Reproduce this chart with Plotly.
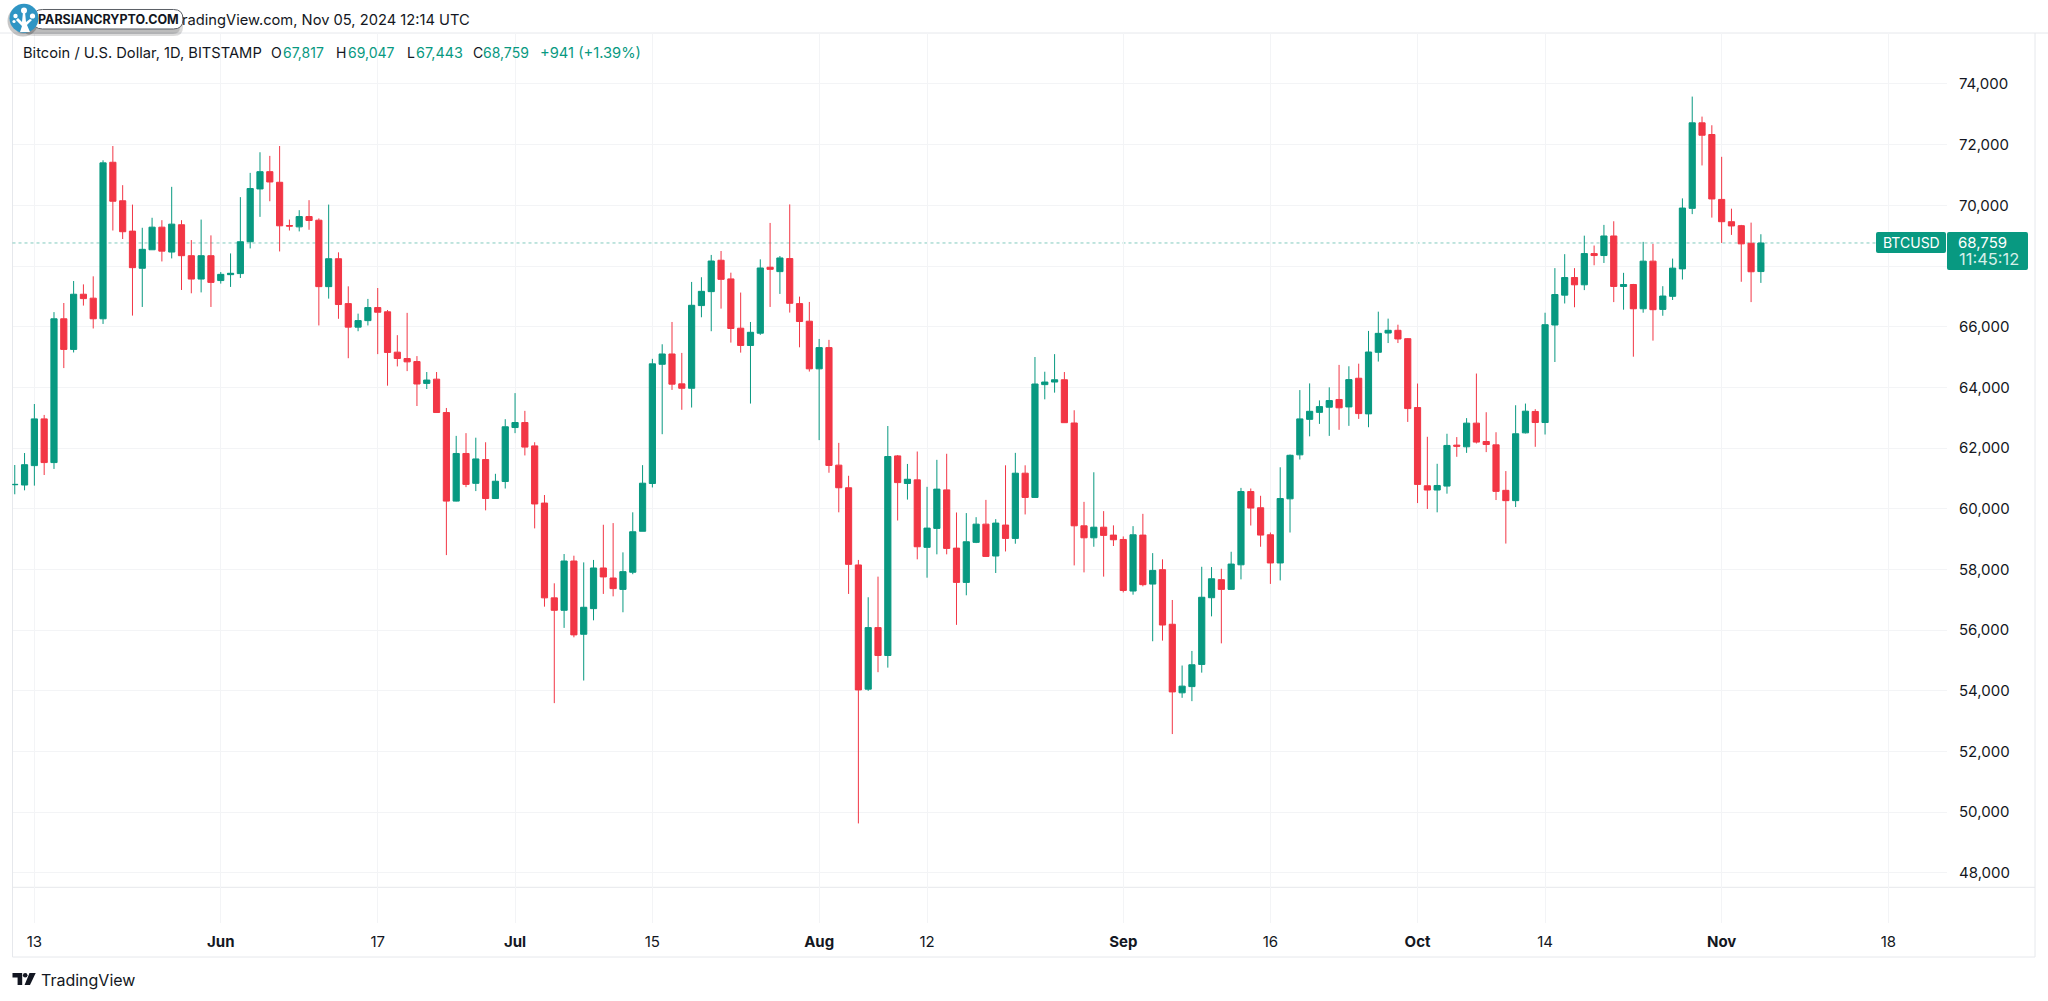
import pandas as pd
import plotly.graph_objects as go

W = 2048
H = 1001

GREEN = '#089981'
RED = '#F23645'
TEXT = '#131722'
GRID = '#f3f4f6'
BORDER = '#e6e8ec'

# Daily candles, BTCUSD Bitstamp
dates = pd.date_range('2024-05-11', '2024-11-05', freq='D')

# May 11 .. Jun 30
opens = [60790, 60780, 61420, 62960, 61520, 66260, 65250, 67070, 66940, 66260,
         71420, 70150, 69150, 67925, 68535, 69280, 68460, 69360, 68340, 67570,
         68340, 67520, 67715, 67750, 68800, 70540, 71110, 70760, 69335, 69290,
         69630, 69510, 67320, 68240, 66760, 65985, 66200, 66630, 66490, 65160,
         64950, 64850, 64130, 64270, 63170, 60250, 61820, 60835, 61620, 60335,
         60895,
         # Jul
         62675, 62840, 62070, 60185, 57060, 56650, 58275, 55860, 56705, 58045,
         57715, 57340, 57905, 59255, 60830, 64760, 65100, 64115, 63970, 66695,
         67155, 68190, 67575, 65950, 65380, 65785, 67960, 67815, 68245, 66760,
         66180,
         # Aug
         64610, 65310, 61435, 60690, 58145, 54050, 56080, 55160, 61740, 60830,
         60950, 58725, 59350, 60620, 58700, 57570, 58890, 59490, 58440, 59460,
         59020, 61170, 60370, 64090, 64175, 64250, 62825, 59435, 59040, 59390,
         59130,
         # Sep
         58985, 57285, 59130, 57515, 57990, 56190, 53930, 54135, 54865, 57065,
         57660, 57340, 58150, 60565, 60030, 59140, 58210, 60325, 61775, 62945,
         63175, 63345, 63600, 63355, 64300, 63125, 65155, 65790, 65880, 65605,
         # Oct
         63335, 60755, 60615, 60745, 62095, 62040, 62820, 62215, 62105, 60605,
         60265, 62500, 63205, 62840, 66055, 67040, 67620, 67380, 68410, 68345,
         68990, 67325, 67390, 66590, 68160, 66570, 67000, 67905, 69900, 72720,
         72335,
         # Nov
         70195, 69460, 69330, 68750, 67817]

highs = [61440, 61835, 63450, 63090, 66480, 66780, 67505, 67395, 67660, 71485,
         71955, 70665, 70025, 69260, 69590, 69510, 70610, 69510, 68855, 69530,
         69010, 67800, 68415, 70270, 71070, 71750, 71630, 71955, 69530, 69840,
         70170, 69570, 70025, 68450, 67330, 66430, 66915, 67275, 66550, 65720,
         66455, 65030, 64505, 64505, 63320, 62400, 62490, 62340, 62190, 61150,
         62950,
         63810, 63225, 62190, 60450, 57540, 58505, 58450, 58230, 58310, 59470,
         59525, 58560, 59880, 61435, 64940, 65420, 66155, 65135, 67475, 67630,
         68365, 68495, 67780, 67125, 66155, 68220, 69420, 68330, 70030, 66990,
         66815,
         65595, 65565, 62170, 61085, 58310, 57080, 57760, 62725, 61770, 61475,
         61885, 60720, 61610, 61810, 59875, 59855, 59720, 60290, 59655, 61430,
         61840, 61430, 65000, 64515, 65095, 64505, 63245, 60225, 61200, 59920,
         59450,
         59085, 59425, 59830, 58535, 58330, 56990, 54830, 55310, 58085, 58075,
         58020, 58580, 60685, 60665, 60425, 59215, 61365, 61785, 63910, 64130,
         63570, 64000, 64740, 64695, 64780, 65860, 66495, 66265, 66065, 65625,
         64125, 62370, 61480, 62470, 62360, 62985, 64455, 63180, 62520, 61240,
         63410, 63465, 63280, 66460, 67930, 68390, 67930, 69000, 68675, 69355,
         69475, 67775, 67410, 68795, 68730, 67335, 68245, 70230, 73585, 72925,
         72640,
         71600, 69890, 69355, 69430, 69047]

lows = [60475, 60605, 60760, 61110, 61310, 64635, 65150, 66695, 65940, 66090,
        69170, 68890, 66365, 66650, 68535, 68150, 68250, 67210, 67100, 67130,
        66650, 67420, 67310, 67605, 68580, 69620, 70135, 68480, 69170, 69140,
        69195, 66040, 66925, 66260, 64960, 65850, 66040, 65095, 64055, 64690,
        64535, 63385, 63945, 63170, 58470, 60240, 60710, 60580, 59945, 60330,
        60665,
        62490, 61755, 59350, 56770, 53590, 56070, 55760, 54335, 56320, 57190,
        57110, 56585, 57840, 59255, 60700, 62455, 63915, 63260, 63335, 66310,
        65850, 66595, 65475, 65145, 63465, 65730, 66650, 67080, 66465, 65320,
        64520,
        62260, 61185, 59880, 57190, 49625, 53995, 54610, 54760, 59610, 60300,
        58330, 57725, 58495, 58495, 56170, 57145, 58865, 58425, 57880, 58590,
        58845, 59810, 60370, 63605, 63825, 62835, 58130, 57900, 58745, 57760,
        58770,
        57240, 57165, 57440, 55630, 55650, 52570, 53765, 53655, 54595, 56450,
        55560, 57340, 57670, 59445, 58745, 57520, 57635, 59215, 61620, 62385,
        62795, 62400, 62600, 62730, 62960, 62685, 64850, 65460, 65460, 62860,
        60185, 59990, 59880, 60495, 61710, 61840, 62150, 61865, 60285, 58850,
        60055, 62480, 62040, 62445, 64835, 66765, 66640, 67205, 68025, 68100,
        66810, 66560, 65010, 66460, 65540, 66360, 66880, 67555, 69710, 71315,
        69595,
        68760, 69025, 67480, 66810, 67443]

closes = [60800, 61450, 62960, 61520, 66260, 65250, 67070, 66925, 66260, 71400,
          70135, 69130, 67945, 68550, 69280, 68490, 69380, 68340, 67570, 68340,
          67460, 67725, 67760, 68800, 70555, 71110, 70770, 69325, 69315, 69630,
          69500, 67320, 68240, 66730, 65985, 66200, 66630, 66475, 65150, 64950,
          64840, 64110, 64240, 63170, 60250, 61820, 60800, 61640, 60335, 60905,
          62700,
          62840, 62030, 60155, 57060, 56650, 58275, 55840, 56750, 58045, 57750,
          57365, 57925, 59240, 60840, 64775, 65100, 64105, 63970, 66705, 67165,
          68165, 67560, 65940, 65380, 65815, 67935, 67890, 68265, 66770, 66170,
          64610,
          65310, 61425, 60690, 58165, 54025, 56080, 55160, 61720, 60860, 60970,
          58745, 59360, 60645, 58690, 57570, 58910, 59490, 58425, 59525, 59020,
          61170, 60370, 64110, 64175, 64250, 62835, 59435, 59040, 59390, 59120,
          58975,
          57305, 59140, 57495, 57965, 56165, 53960, 54150, 54855, 57080, 57690,
          57340, 58175, 60565, 60020, 59130, 58210, 60335, 61760, 62960, 63210,
          63365, 63565, 63325, 64255, 63135, 65165, 65780, 65880, 65595, 63300,
          60800, 60615, 60765, 62085, 62060, 62820, 62195, 62115, 60570, 60265,
          62470, 63215, 62840, 66065, 67060, 67620, 67380, 68410, 68345, 68990,
          67325, 67390, 66590, 68160, 66560, 67010, 67930, 69910, 72720, 72310,
          70210,
          69460, 69320, 68730, 67810, 68759]

price_ticks = [48000, 50000, 52000, 54000, 56000, 58000, 60000, 62000,
               64000, 66000, 68000, 70000, 72000, 74000]
# 68,000 sits under the last price label in the reference
price_labels = ['48,000', '50,000', '52,000', '54,000', '56,000', '58,000', '60,000', '62,000',
                '64,000', '66,000', '', '70,000', '72,000', '74,000']
time_ticks = ['2024-05-13', '2024-06-01', '2024-06-17', '2024-07-01', '2024-07-15',
              '2024-08-01', '2024-08-12', '2024-09-01', '2024-09-16', '2024-10-01',
              '2024-10-14', '2024-11-01', '2024-11-18']
time_labels = ['13', '<b>Jun</b>', '17', '<b>Jul</b>', '15', '<b>Aug</b>', '12',
               '<b>Sep</b>', '16', '<b>Oct</b>', '14', '<b>Nov</b>', '18']


# pixel position on the page -> paper fraction
def px(x):
    return x / W


def py(y):
    return 1 - y / H


def path_of(points):
    s = ' '.join(f'L{px(x):.5f},{py(y):.5f}' for x, y in points)
    return 'M' + s[1:] + ' Z'


def round_box(x0, y0, x1, y1, r):
    return (f'M{px(x0 + r):.5f},{py(y0):.5f} L{px(x1 - r):.5f},{py(y0):.5f} '
            f'Q{px(x1):.5f},{py(y0):.5f} {px(x1):.5f},{py(y0 + r):.5f} '
            f'L{px(x1):.5f},{py(y1 - r):.5f} Q{px(x1):.5f},{py(y1):.5f} {px(x1 - r):.5f},{py(y1):.5f} '
            f'L{px(x0 + r):.5f},{py(y1):.5f} Q{px(x0):.5f},{py(y1):.5f} {px(x0):.5f},{py(y1 - r):.5f} '
            f'L{px(x0):.5f},{py(y0 + r):.5f} Q{px(x0):.5f},{py(y0):.5f} {px(x0 + r):.5f},{py(y0):.5f} Z')


def paper_line(x0, y0, x1, y1, color=BORDER, width=1):
    return dict(type='line', xref='paper', yref='paper', x0=px(x0), y0=py(y0), x1=px(x1), y1=py(y1),
                line=dict(color=color, width=width), layer='below')


def paper_circle(cx, cy, r, color, opacity=1):
    return dict(type='circle', xref='paper', yref='paper', x0=px(cx - r), x1=px(cx + r),
                y0=py(cy - r), y1=py(cy + r), fillcolor=color, opacity=opacity,
                line=dict(width=0), layer='above')


def paper_path(d, color, opacity=1, line_color=None, line_width=0):
    return dict(type='path', xref='paper', yref='paper', path=d, fillcolor=color, opacity=opacity,
                line=dict(color=line_color or color, width=line_width), layer='above')


def label(x, y, text, size=15, color=TEXT, anchor='left', family='Inter'):
    return dict(xref='paper', yref='paper', x=px(x), y=py(y), text=text, showarrow=False,
                xanchor=anchor, yanchor='middle', align='left', borderpad=0, borderwidth=0,
                font=dict(family=family, size=size, color=color))


fig = go.Figure()

fig.add_trace(
    go.Candlestick(
        x=dates,
        open=opens,
        high=highs,
        low=lows,
        close=closes,
        increasing=dict(line=dict(color=GREEN, width=1), fillcolor=GREEN),
        decreasing=dict(line=dict(color=RED, width=1), fillcolor=RED),
        whiskerwidth=0,
        showlegend=False,
    )
)

shapes = [
    # frame of the snapshot
    paper_line(0, 33, W, 33),
    paper_line(12.5, 33, 12.5, 957),
    paper_line(12.5, 887.3, 2035, 887.3),
    paper_line(12.5, 957, 2035, 957),
    paper_line(2035, 33, 2035, 957),
    # last price line
    dict(type='line', xref='paper', yref='y', x0=px(12.5), x1=px(1876), y0=closes[-1], y1=closes[-1],
         line=dict(color=GREEN, width=1, dash='dot'), opacity=0.5, layer='below'),
    # last price labels
    paper_path(round_box(1876, 232, 1946, 253, 2), GREEN),
    paper_path(round_box(1947, 232, 2028, 270, 2), GREEN),
    # badge shadow, pill, round logo
    paper_path(round_box(24, 14, 183, 36, 9), '#000000', opacity=0.14),
    paper_path(round_box(16, 17, 180, 34, 7), '#000000', opacity=0.14),
    paper_circle(23, 21, 15.5, '#000000', 0.22),
    paper_path(round_box(33, 9.5, 183, 29, 9.5), '#ffffff', line_color='#5b5f66', line_width=1),
    paper_circle(24, 18.3, 14.5, '#2f95c4'),
    # little tree on the logo
    paper_path(path_of([(20, 32), (30, 32), (27, 25), (32, 20), (30, 19), (26, 22), (25, 12),
                        (23, 12), (22, 22), (18, 18), (16, 20), (22, 26)]), '#ffffff'),
    paper_circle(24, 10.5, 3, '#ffffff'),
    paper_circle(32.5, 16, 2.6, '#ffffff'),
    paper_circle(15.5, 16, 2.2, '#ffffff'),
    paper_circle(14, 21.5, 1.6, '#ffffff'),
    # TradingView mark
    paper_path(path_of([(12.5, 973), (22.2, 973), (22.2, 985), (17.6, 985), (17.6, 977.5), (12.5, 977.5)]), TEXT),
    paper_circle(25.2, 975.2, 2.3, TEXT),
    paper_path(path_of([(29.5, 973), (35.7, 973), (30, 985), (24.6, 985)]), TEXT),
]

annotations = [
    label(470, 20, 'radingView.com, Nov 05, 2024 12:14 UTC', size=14.7, anchor='right'),
    label(23, 53, 'Bitcoin / U.S. Dollar, 1D, BITSTAMP', size=14.7),
    label(271, 53, 'O', size=14), label(283, 53, f'{opens[-1]:,}', size=14, color=GREEN),
    label(336, 53, 'H', size=14), label(348, 53, f'{highs[-1]:,}', size=14, color=GREEN),
    label(407, 53, 'L', size=14), label(416, 53, f'{lows[-1]:,}', size=14.4, color=GREEN),
    label(473, 53, 'C', size=14), label(483, 53, f'{closes[-1]:,}', size=14, color=GREEN),
    label(540, 53, '+941 (+1.39%)', size=14.7, color=GREEN),
    label(38, 19.5, '<b>PARSIANCRYPTO.COM</b>', size=12.5),
    label(41, 980, 'TradingView', size=16),
    label(1911, 242.5, 'BTCUSD', size=14, color='#ffffff', anchor='center'),
    label(1958, 242, f'{closes[-1]:,}', size=15, color='#ffffff'),
    label(1959, 259, '11:45:12', size=16.5, color='#d5efe9'),
]

fig.update_layout(
    width=W,
    height=H,
    margin=dict(l=0, r=0, t=0, b=0),
    paper_bgcolor='#ffffff',
    plot_bgcolor='#ffffff',
    font=dict(family='Inter', size=15, color=TEXT),
    boxgap=0.1,
    shapes=shapes,
    annotations=annotations,
    xaxis=dict(
        domain=[px(12.5), px(1947)],
        range=['2024-05-10 18:30', '2024-11-23 23:20'],
        rangeslider=dict(visible=False),
        tickmode='array',
        tickvals=time_ticks,
        ticktext=time_labels,
        ticks='',
        ticklabelstandoff=8,
        showgrid=True,
        gridcolor=GRID,
        gridwidth=1,
        showline=False,
        zeroline=False,
    ),
    yaxis=dict(
        domain=[py(923), py(33)],
        range=[46342, 75681],
        side='right',
        tickmode='array',
        tickvals=price_ticks,
        ticktext=price_labels,
        ticks='',
        ticklabelstandoff=11,
        showgrid=True,
        gridcolor=GRID,
        gridwidth=1,
        showline=False,
        zeroline=False,
    ),
)

fig.write_html("out.html", config=dict(displayModeBar=False), post_script="document.body.style.margin='0';")
